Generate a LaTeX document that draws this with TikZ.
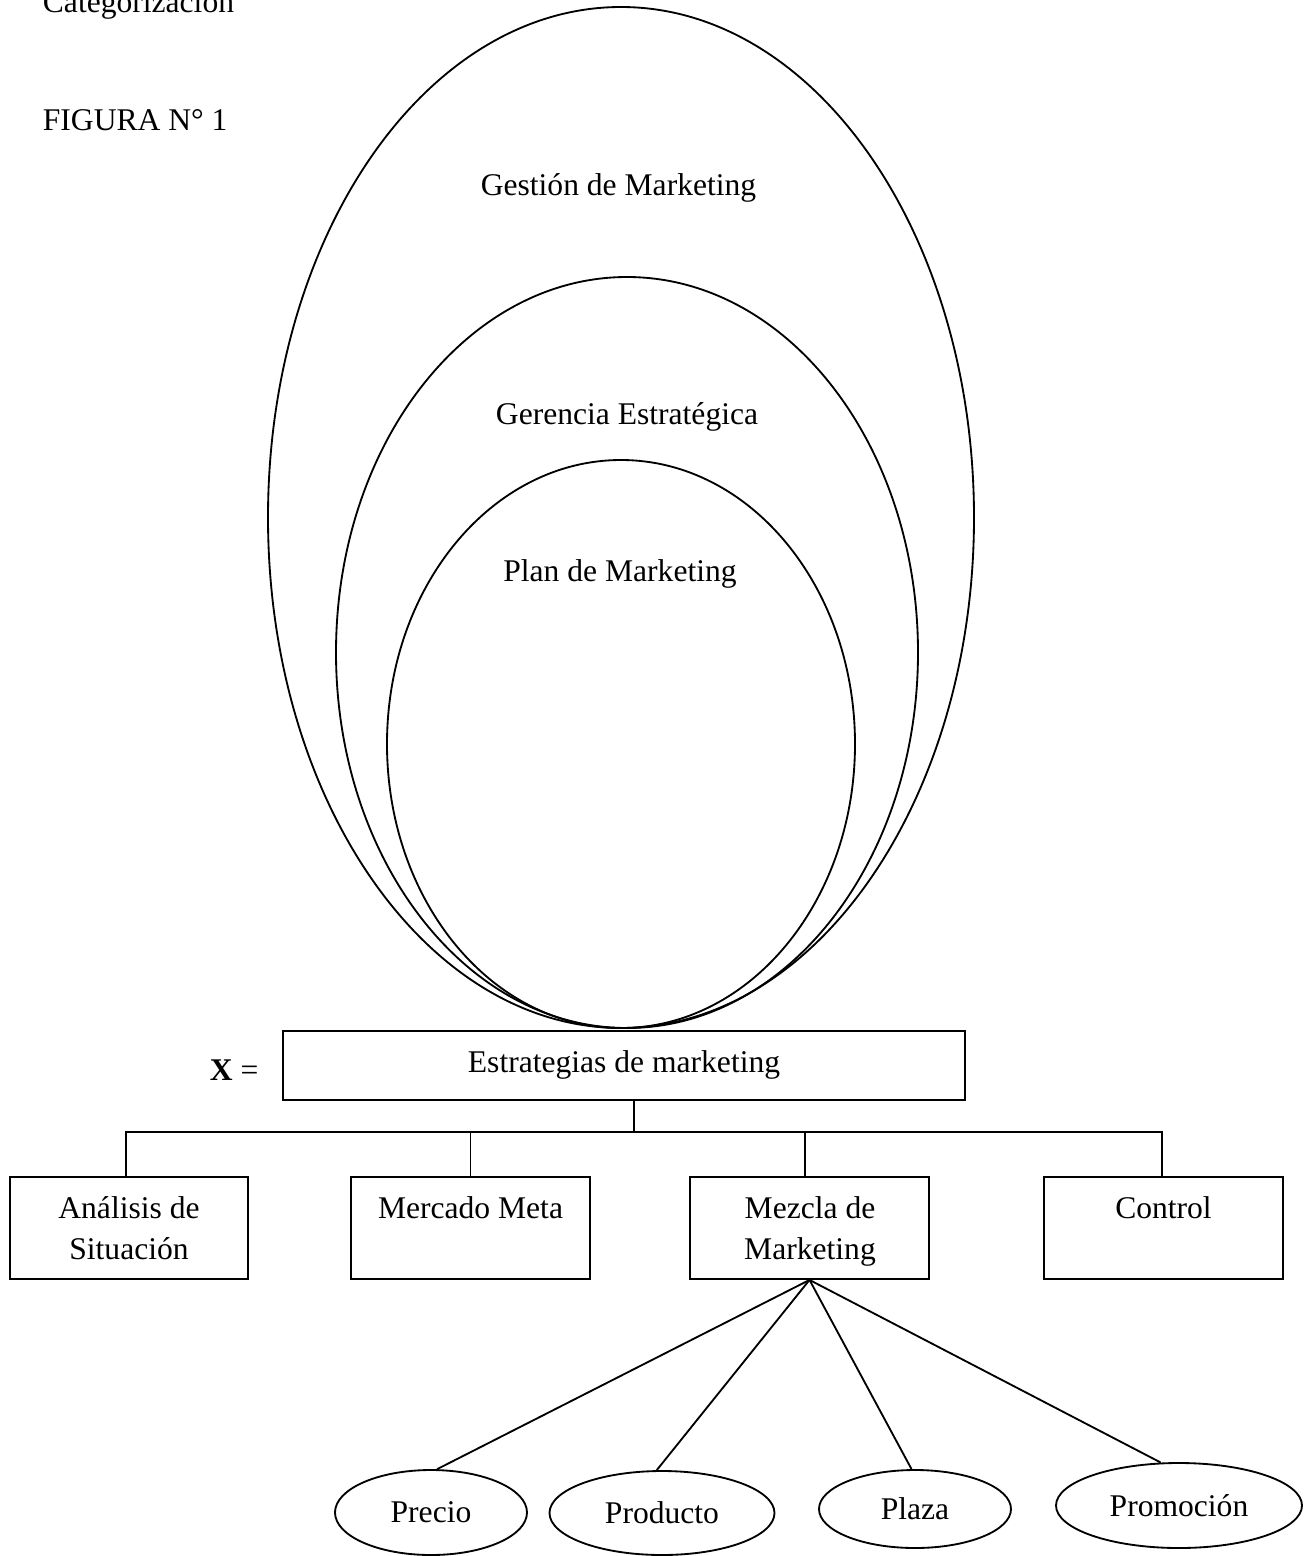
\documentclass[tikz,border=0pt]{standalone}
\usepackage{fontspec}
\setmainfont{Liberation Serif}
\usetikzlibrary{shapes.geometric}
% one drawing unit in points
\newcommand{\pxu}{0.38pt}
\begin{document}
\begin{tikzpicture}[x=0.38pt,y=-0.38pt,
  line width=0.7pt,
  txt/.style={inner sep=0pt, anchor=base, font=\fontsize{12}{14}\selectfont},
  ring/.style={draw, ellipse, inner sep=0pt},
  card/.style={draw, rectangle, inner sep=0pt},
  leaf/.style={draw, ellipse, inner sep=0pt, font=\fontsize{12}{14}\selectfont},
]
\useasboundingbox (0,0) rectangle (1304,1556);

% headings
\node[txt, anchor=base west] (cat) at (42,12.7) {Categorización};
\node[txt, anchor=base west] (fig) at (42,130.7) {FIGURA N° 1};

% nested ellipses
\node[ring, minimum width=706*\pxu, minimum height=1021*\pxu] (gest) at (621,517.5) {};
\node[ring, minimum width=582*\pxu, minimum height=751*\pxu] (ger) at (627,652.5) {};
\node[ring, minimum width=468*\pxu, minimum height=568*\pxu] (plan) at (621,744) {};
\node[txt] (gestT) at (618.5,195) {Gestión de Marketing};
\node[txt] (gerT) at (627,424) {Gerencia Estratégica};
\node[txt] (planT) at (620,581) {Plan de Marketing};

% strategy box
\node[card, minimum width=682*\pxu, minimum height=69*\pxu] (est) at (624,1065.5) {};
\node[txt] (estT) at (624,1072) {Estrategias de marketing};
\node[txt, anchor=base west] (xeq) at (209,1080) {\textbf{X} =};

% second level boxes
\node[card, minimum width=238*\pxu, minimum height=102*\pxu] (ana) at (129,1228) {};
\node[card, minimum width=239*\pxu, minimum height=102*\pxu] (mer) at (470.5,1228) {};
\node[card, minimum width=239*\pxu, minimum height=102*\pxu] (mez) at (809.5,1228) {};
\node[card, minimum width=239*\pxu, minimum height=102*\pxu] (ctl) at (1163.5,1228) {};
\node[txt] (anaA) at (129,1218) {Análisis de};
\node[txt] (anaB) at (129,1259) {Situación};
\node[txt] (merT) at (470.5,1218) {Mercado Meta};
\node[txt] (mezA) at (810,1218) {Mezcla de};
\node[txt] (mezB) at (810,1259) {Marketing};
\node[txt] (ctlT) at (1163.5,1218) {Control};

% tree connectors
\coordinate (stem) at (634,1132);
\draw (est.south -| stem) -- (stem);
\draw ([xshift=-3*\pxu]ana.north) |- (stem) -| ([xshift=-1.5*\pxu]ctl.north);
\draw (mer.north) -- (mer.north |- stem);
\draw ([xshift=-4.5*\pxu]mez.north) -- ([xshift=-4.5*\pxu]mez.north |- stem);

% marketing mix
\node[leaf, minimum width=192*\pxu, minimum height=85*\pxu] (pre) at (431,1512.5) {Precio};
\node[leaf, minimum width=225*\pxu, minimum height=84*\pxu] (pro) at (662,1513) {Producto};
\node[leaf, minimum width=192*\pxu, minimum height=78*\pxu] (pla) at (915,1509) {Plaza};
\node[leaf, minimum width=246*\pxu, minimum height=85*\pxu] (prm) at (1179,1505.5) {Promoción};

\draw (mez.south) -- (pre.82);
\draw (mez.south) -- (pro.97);
\draw (mez.south) -- (pla.95);
\draw (mez.south) -- (prm.113);
\end{tikzpicture}
\end{document}
